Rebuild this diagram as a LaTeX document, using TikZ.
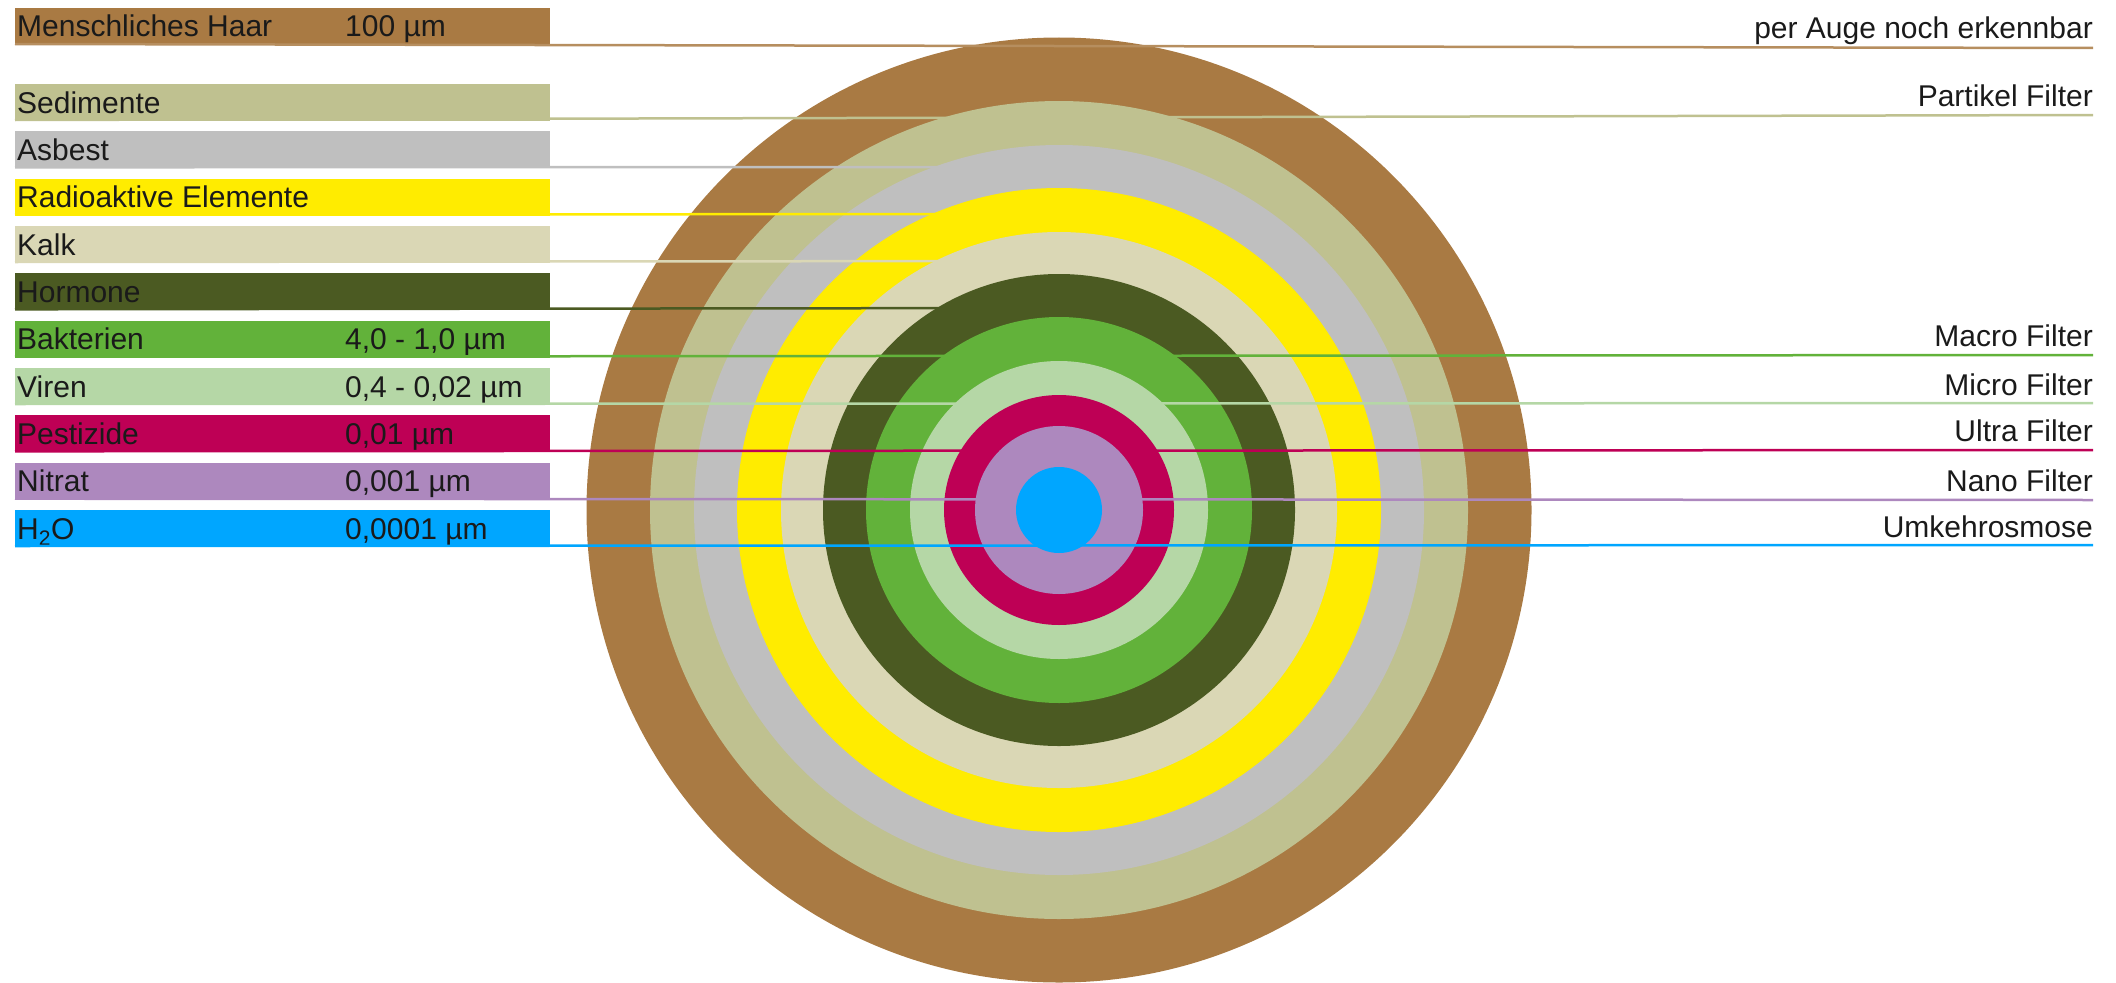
\documentclass[tikz,border=0pt]{standalone}
\usepackage{fontspec}
\setmainfont{Liberation Sans}
\definecolor{cHaar}{HTML}{A97A43}
\definecolor{cSed}{HTML}{BFC190}
\definecolor{cAsb}{HTML}{BFBFBF}
\definecolor{cRad}{HTML}{FFEC00}
\definecolor{cKalk}{HTML}{DAD7B5}
\definecolor{cHorm}{HTML}{4B5A22}
\definecolor{cBak}{HTML}{62B23A}
\definecolor{cVir}{HTML}{B5D7A6}
\definecolor{cPest}{HTML}{BE0055}
\definecolor{cNit}{HTML}{AD88BE}
\definecolor{cHtwo}{HTML}{00A6FF}
\definecolor{txt}{HTML}{1A1A1A}
\begin{document}
\begin{tikzpicture}[x=1pt,y=-1pt,
  box/.style={anchor=north west, minimum width=535pt, minimum height=37pt, inner sep=0pt, outer sep=0pt},
  lbl/.style={anchor=base west, inner sep=0pt, text=txt, font=\fontsize{30}{36}\selectfont},
  rlbl/.style={anchor=base east, inner sep=0pt, text=txt, font=\fontsize{30}{36}\selectfont},
  ln/.style={line width=2.5pt}]
\useasboundingbox (0,0) rectangle (2116,982);

% ---- legend boxes ----
\node[box, fill=cHaar] (haar) at (15,8) {};
\node[box, fill=cSed]  (sed)  at (15,84) {};
\node[box, fill=cAsb]  (asb)  at (15,131.3) {};
\node[box, fill=cRad]  (rad)  at (15,178.7) {};
\node[box, fill=cKalk] (kalk) at (15,226) {};
\node[box, fill=cHorm] (horm) at (15,273.3) {};
\node[box, fill=cBak]  (bak)  at (15,320.7) {};
\node[box, fill=cVir]  (vir)  at (15,368) {};
\node[box, fill=cPest] (pest) at (15,415.3) {};
\node[box, fill=cNit]  (nit)  at (15,462.7) {};
\node[box, fill=cHtwo] (htwo) at (15,510) {};

% ---- legend texts ----
\node[lbl] (haarT) at (17,37) {Menschliches Haar};
\node[lbl] (haarS) at (345,37) {100 µm};
\node[lbl] (sedT)  at (17,113) {Sedimente};
\node[lbl] (asbT)  at (17,160.3) {Asbest};
\node[lbl] (radT)  at (17,207.7) {Radioaktive Elemente};
\node[lbl] (kalkT) at (17,255) {Kalk};
\node[lbl] (hormT) at (17,302.3) {Hormone};
\node[lbl] (bakT)  at (17,349.7) {Bakterien};
\node[lbl] (bakS)  at (345,349.7) {4,0 - 1,0 µm};
\node[lbl] (virT)  at (17,397) {Viren};
\node[lbl] (virS)  at (345,397) {0,4 - 0,02 µm};
\node[lbl] (pestT) at (17,444.3) {Pestizide};
\node[lbl] (pestS) at (345,444.3) {0,01 µm};
\node[lbl] (nitT)  at (17,491.7) {Nitrat};
\node[lbl] (nitS)  at (345,491.7) {0,001 µm};
\node[lbl] (htwoT) at (17,539) {H\textsubscript{2}O};
\node[lbl] (htwoS) at (345,539) {0,0001 µm};

% ---- right labels ----
\node[rlbl] (haarR) at (2093,39) {per Auge noch erkennbar};
\node[rlbl] (sedR)  at (2093,106) {Partikel Filter};
\node[rlbl] (bakR)  at (2093,346) {Macro Filter};
\node[rlbl] (virR)  at (2093,395) {Micro Filter};
\node[rlbl] (pestR) at (2093,441) {Ultra Filter};
\node[rlbl] (nitR)  at (2093,491) {Nano Filter};
\node[rlbl] (htwoR) at (2093,537) {Umkehrosmose};

% ---- line end points ----
\coordinate (c) at (1059,510);
\coordinate (haarE) at (2093,48);
\coordinate (sedE)  at (2093,115);
\coordinate (asbE)  at (1059,167);
\coordinate (radE)  at (1059,214);
\coordinate (kalkE) at (1059,261);
\coordinate (hormE) at (1059,308);
\coordinate (bakE)  at (2093,355);
\coordinate (virE)  at (2093,403);
\coordinate (pestE) at (2093,450);
\coordinate (nitE)  at (2093,500);
\coordinate (htwoE) at (2093,545);

% ---- rings and lines, outer to inner ----
\fill[cHaar] (c) circle[radius=472.5];
\draw[ln, cHaar!85] ([yshift=1pt]haar.south west) -- (haarE);
\fill[cSed] (c) circle[radius=409];
\draw[ln, cSed] ([yshift=1pt]sed.south west) -- (sedE);
\fill[cAsb] (c) circle[radius=365];
\draw[ln, cAsb] ([yshift=1pt]asb.south west) -- (asbE);
\fill[cRad] (c) circle[radius=322];
\draw[ln, cRad] ([yshift=1pt]rad.south west) -- (radE);
\fill[cKalk] (c) circle[radius=278];
\draw[ln, cKalk] ([yshift=1pt]kalk.south west) -- (kalkE);
\fill[cHorm] (c) circle[radius=236];
\draw[ln, cHorm] ([yshift=1pt]horm.south west) -- (hormE);
\fill[cBak] (c) circle[radius=193];
\draw[ln, cBak] ([yshift=1pt]bak.south west) -- (bakE);
\fill[cVir] (c) circle[radius=149];
\draw[ln, cVir] ([yshift=1pt]vir.south west) -- (virE);
\fill[cPest] (c) circle[radius=115];
\draw[ln, cPest] ([yshift=1pt]pest.south west) -- (pestE);
\fill[cNit] (c) circle[radius=84];
\draw[ln, cNit] ([yshift=1pt]nit.south west) -- (nitE);
\fill[cHtwo] (c) circle[radius=43];
\draw[ln, cHtwo] ([yshift=1pt]htwo.south west) -- (htwoE);
\end{tikzpicture}
\end{document}
